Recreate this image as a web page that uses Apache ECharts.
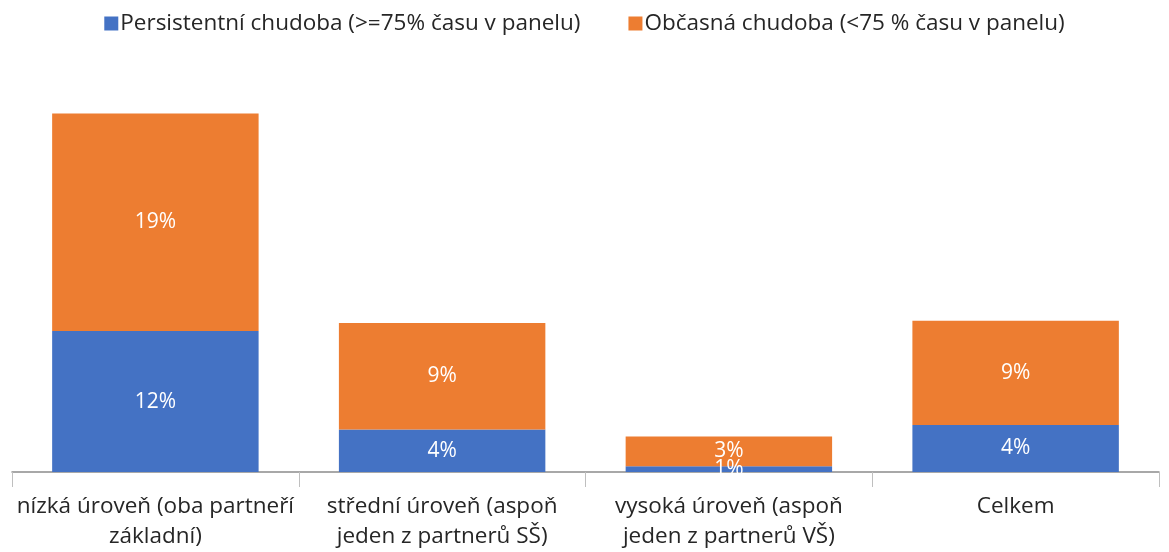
<!DOCTYPE html>
<html>
<head>
<meta charset="utf-8">
<script src="https://cdn.jsdelivr.net/npm/echarts@6/dist/echarts.min.js"></script>
<style>
  html, body { margin: 0; padding: 0; background: #fff; }
  #chart { width: 1169px; height: 552px; }
</style>
</head>
<body>
<div id="chart"></div>
<script>
const categories = [
  'nízká úroveň (oba partneří\nzákladní)',
  'střední úroveň (aspoň\njeden z partnerů SŠ)',
  'vysoká úroveň (aspoň\njeden z partnerů VŠ)',
  'Celkem'
]
const seriesNames = [
  'Persistentní chudoba (>=75% času v panelu)',
  'Občasná chudoba (<75 % času v panelu)'
]
// values in %
const persistent = [12.3, 3.7, 0.5, 4.1]
const occasional = [19.0, 9.3, 2.6, 9.1]

const font = '"Open Sans", "Noto Sans", sans-serif'

const chart = echarts.init(document.getElementById('chart'))

const labelStyle = {
  show: true,
  position: 'inside',
  color: '#ffffff',
  fontSize: 21,
  fontFamily: font,
  formatter: (p) => Math.round(p.value) + '%'
}

chart.setOption({
  animation: false,
  textStyle: { fontFamily: font },
  legend: {
    top: 7,
    left: 'center',
    itemWidth: 14,
    itemHeight: 14,
    itemGap: 48,
    icon: 'rect',
    textStyle: { fontSize: 22.5, color: '#262626', fontFamily: font, padding: [0, 0, 0, -3] },
    data: seriesNames
  },
  grid: {
    left: 12,
    right: 10,
    top: 71,
    bottom: 70
  },
  xAxis: {
    type: 'category',
    data: categories,
    axisLine: { lineStyle: { color: '#8c8c8c', width: 1.5 } },
    axisTick: { show: true, interval: 0, length: 15, lineStyle: { color: '#bfbfbf' } },
    axisLabel: {
      interval: 0,
      color: '#262626',
      fontSize: 22.5,
      lineHeight: 30,
      margin: 20,
      fontFamily: font
    }
  },
  yAxis: {
    type: 'value',
    min: 0,
    max: 35,
    show: false,
    splitLine: { show: false }
  },
  series: [
    {
      name: seriesNames[0],
      type: 'bar',
      stack: 'total',
      barWidth: '72%',
      data: persistent,
      itemStyle: { color: '#4472c4' },
      label: labelStyle
    },
    {
      name: seriesNames[1],
      type: 'bar',
      stack: 'total',
      barWidth: '72%',
      data: occasional,
      itemStyle: { color: '#ed7d31' },
      label: labelStyle
    }
  ]
})
</script>
</body>
</html>
